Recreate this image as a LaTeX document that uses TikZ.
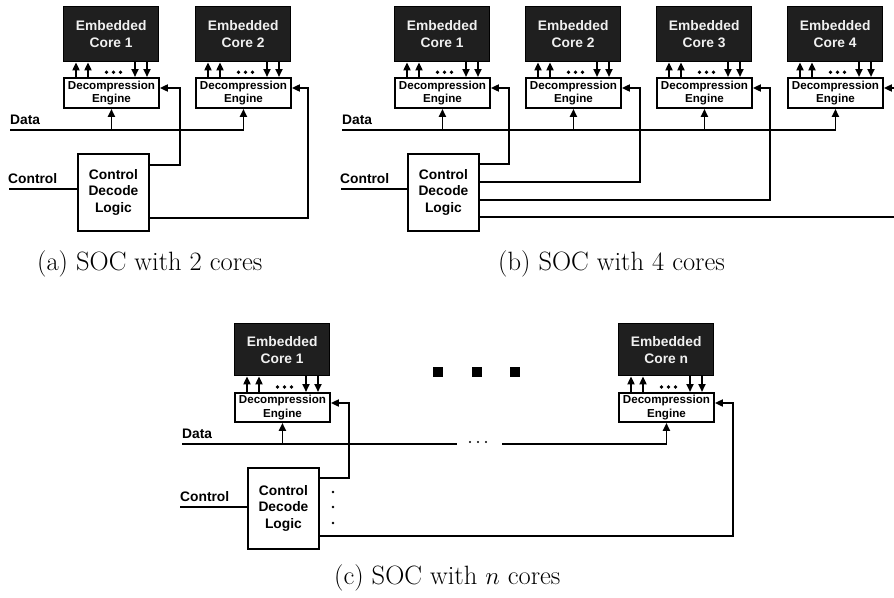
\documentclass[tikz,border=0pt]{standalone}
\usepackage{fontspec}
\newfontfamily\blocksans{Liberation Sans}
\usetikzlibrary{arrows.meta,calc}

% One core with its decompression engine, the four core links and the dots between them.
% #1 name, #2 left x, #3 core top, #4 core height, #5 engine top, #6 engine height, #7 core number
\newcommand{\coreunit}[7]{%
  \node[corebox, minimum height=#4pt, anchor=north west] (#1c) at (#2,#3) {Embedded\\Core #7};
  \node[debox, minimum height=#6pt, anchor=north west] (#1d) at (#2,#5) {Decompression\\Engine};
  \foreach \dx in {13,25}
    \draw[sig] ([xshift=\dx pt]#1d.north west) -- ([xshift=\dx pt]#1c.south west);
  \foreach \dx in {72,84}
    \draw[sig] ([xshift=\dx pt]#1c.south west) -- ([xshift=\dx pt]#1d.north west);
  \foreach \dx in {43.5,50.5,57.5}
    \fill ($(#1c.south west)!0.68!(#1d.north west)+(\dx,0)$) circle (1.9pt);
  \coordinate (#1in) at ([yshift=-11pt]#1d.north east);
}

\tikzset{
  corebox/.style={draw=black, fill=black!88, text=black!6, line width=1.4pt,
    font=\blocksans\bfseries\fontsize{13.8}{17}\selectfont, align=center,
    minimum width=95pt, inner sep=0pt},
  debox/.style={draw=black, fill=white, line width=1.9pt,
    font=\blocksans\bfseries\fontsize{11.6}{13.5}\selectfont, align=center,
    minimum width=95pt, inner sep=0pt},
  ctrlbox/.style={draw=black, fill=white, line width=1.9pt,
    font=\blocksans\bfseries\fontsize{13.8}{16.5}\selectfont, align=center,
    minimum width=71pt, inner sep=0pt},
  lbl/.style={font=\blocksans\bfseries\fontsize{13.8}{16}\selectfont,
    inner sep=0pt, anchor=base west},
  captext/.style={font=\fontsize{26.5}{30}\selectfont, inner sep=0pt, anchor=base west},
  wire/.style={line width=1.9pt},
  sig/.style={line width=1.9pt, -{Triangle[length=8pt,width=7pt]}},
}

\begin{document}
\begin{tikzpicture}[x=1pt,y=-1pt]
\useasboundingbox (0,0) rectangle (894,597);

% ---------------- (a) two cores ----------------
\coreunit{a1}{63}{6}{55}{77}{30}{1}
\coreunit{a2}{195}{6}{55}{77}{30}{2}
\node[ctrlbox, minimum height=77pt, anchor=north west] (ctlA) at (77,153) {Control\\Decode\\Logic};
\node[lbl] (dataA) at (10,124) {Data};
\node[lbl] (ctlInA) at (8,183) {Control};
\coordinate (dA) at (10,130);
\coordinate (cA) at (9,189);
\draw[wire] (cA) -- (ctlA.west |- cA);
\draw[sig] (dA) -| (a2d.south);
\draw[sig] (a1d.south |- dA) -- (a1d.south);
\draw[sig] ([yshift=-12pt]ctlA.north east) -| ([xshift=20pt]a1in) -- (a1in);
\draw[sig] ([yshift=-65pt]ctlA.north east) -| ([xshift=16pt]a2in) -- (a2in);
\node[captext] (capA) at (37,270) {(a) SOC with 2 cores};

% ---------------- (b) four cores ----------------
\coreunit{b1}{394}{6}{55}{77}{30}{1}
\coreunit{b2}{525}{6}{55}{77}{30}{2}
\coreunit{b3}{656}{6}{55}{77}{30}{3}
\coreunit{b4}{787}{6}{55}{77}{30}{4}
\node[ctrlbox, minimum height=77pt, anchor=north west] (ctlB) at (407,153) {Control\\Decode\\Logic};
\node[lbl] (dataB) at (342,124) {Data};
\node[lbl] (ctlInB) at (340,183) {Control};
\coordinate (dB) at (342,130);
\coordinate (cB) at (341,189);
\draw[wire] (cB) -- (ctlB.west |- cB);
\draw[sig] (dB) -| (b4d.south);
\foreach \k in {1,2,3}
  \draw[sig] (b\k d.south |- dB) -- (b\k d.south);
\draw[sig] ([yshift=-11pt]ctlB.north east) -| ([xshift=18pt]b1in) -- (b1in);
\draw[sig] ([yshift=-29pt]ctlB.north east) -| ([xshift=18pt]b2in) -- (b2in);
\draw[sig] ([yshift=-47pt]ctlB.north east) -| ([xshift=17pt]b3in) -- (b3in);
\coordinate (bEdgeLow) at (894,217);
\coordinate (bEdgeTop) at (894,88);
\draw[wire] ([yshift=-64pt]ctlB.north east) -- (bEdgeLow);
\draw[sig] (bEdgeTop) -- (b4in);
\node[captext] (capB) at (498,270) {(b) SOC with 4 cores};

% ---------------- (c) n cores ----------------
\coreunit{c1}{234}{323}{52}{392}{29}{1}
\coreunit{cn}{618}{323}{52}{392}{29}{n}
\node[ctrlbox, minimum height=81pt, anchor=north west] (ctlC) at (247,467) {Control\\Decode\\Logic};
\node[lbl] (dataC) at (182,438) {Data};
\node[lbl] (ctlInC) at (180,501) {Control};
\coordinate (dC) at (182,444);
\coordinate (dCgapL) at (457,444);
\coordinate (dCgapR) at (502,444);
\coordinate (cC) at (180,507);
\draw[wire] (cC) -- (ctlC.west |- cC);
\draw[wire] (dC) -- (dCgapL);
\foreach \x in {470,478,486} \fill (\x,442) circle (1.2pt);
\draw[sig] (dCgapR) -| (cnd.south);
\draw[sig] (c1d.south |- dC) -- (c1d.south);
\draw[sig] ([yshift=-11pt]ctlC.north east) -| ([xshift=18pt]c1in) -- (c1in);
\draw[sig] ([yshift=-69pt]ctlC.north east) -| ([xshift=18pt]cnin) -- (cnin);
\foreach \y in {492,507,523} \fill (333,\y) circle (1.3pt);
\foreach \x in {438,477,515} \fill (\x,371.5) +(-5.3,-5) rectangle +(5.3,5);
\node[captext] (capC) at (334,584) {(c) SOC with $n$ cores};
\end{tikzpicture}
\end{document}
